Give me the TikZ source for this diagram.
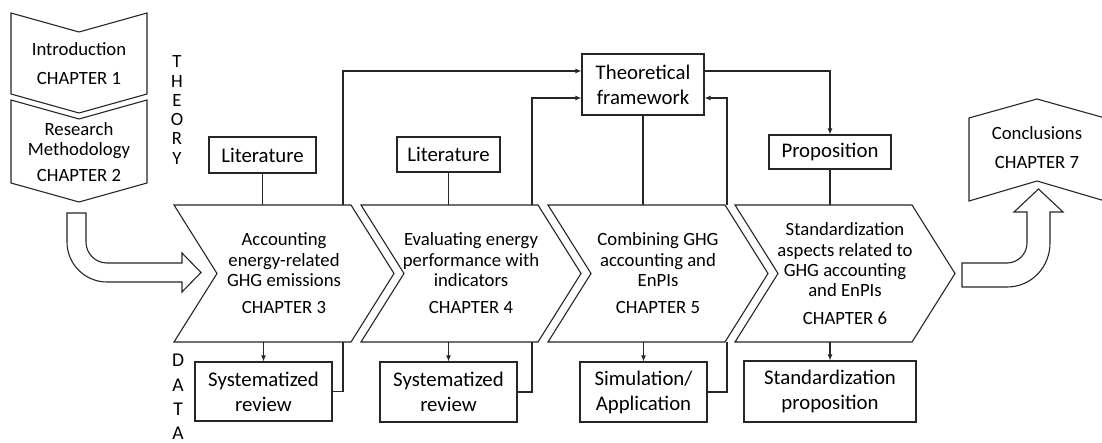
\documentclass[tikz,border=0pt]{standalone}
\usepackage{fontspec}
\setmainfont{Carlito}
\usetikzlibrary{arrows.meta,calc}
\begin{document}
\begin{tikzpicture}[x=1pt,y=-1pt,
  ln/.style={line width=1.1pt, draw=black!85},
  arr/.style={ln, -{Latex[length=6pt,width=5pt]}},
  shapeline/.style={ln, fill=white, line join=miter},
  chevtext/.style={align=center, font=\fontsize{18.7}{20.3}\selectfont, inner sep=0pt},
  box/.style={ln, fill=white, align=center, font=\fontsize{20.8}{25}\selectfont, inner sep=0pt},
  vlabel/.style={align=center, inner sep=0pt}]
\useasboundingbox (0,0) rectangle (1102,443);

% ---- chapters 1 and 2 (downward chevrons) ----
\draw[shapeline] (11,13) -- (79,32) -- (147,13) -- (147,94) -- (79,113) -- (11,94) -- cycle;
\draw[shapeline] (11,100) -- (79,119) -- (147,100) -- (147,183) -- (79,202) -- (11,183) -- cycle;
\node[chevtext] (ch1) at (79,63.5) {Introduction\\[8pt]CHAPTER 1};
\node[chevtext] (ch2) at (79,152) {Research\\Methodology\\[6pt]CHAPTER 2};

% THEORY / DATA labels
\node[vlabel, font=\fontsize{18.7}{19.3}\selectfont] (theory) at (177,110) {T\\H\\E\\O\\R\\Y};
\node[vlabel, font=\fontsize{19.5}{24.3}\selectfont] (data) at (178,397) {D\\A\\T\\A};

% bent block arrow into chapter 3
\draw[shapeline] (86,213) -- (86,242) .. controls (86,253.6) and (95.4,263) .. (107,263)
  -- (182,263) -- (182,253) -- (201,272.5) -- (182,292) -- (182,282) -- (107,282)
  .. controls (84.9,282) and (67,264.1) .. (67,242) -- (67,213) -- cycle;

% ---- chapters 3 to 6 (process chevrons) ----
\foreach \s in {174,361,548,735}
  \draw[shapeline] (\s,205) -- ++(177,0) -- ++(43,68.5) -- ++(-43,68.5) -- ++(-177,0) -- ++(43,-68.5) -- cycle;
\node[chevtext] (ch3) at (284,273.5) {Accounting\\energy-related\\GHG emissions\\[7pt]CHAPTER 3};
\node[chevtext] (ch4) at (471,273.5) {Evaluating energy\\performance with\\indicators\\[7pt]CHAPTER 4};
\node[chevtext] (ch5) at (658,273.5) {Combining GHG\\accounting and\\EnPIs\\[7pt]CHAPTER 5};
\node[chevtext] (ch6) at (845,273.5) {Standardization\\aspects related to\\GHG accounting\\and EnPIs\\[7pt]CHAPTER 6};

\coordinate (ctop) at (0,205);
\coordinate (cbot) at (0,342);
\coordinate (r1) at (343,205);
\coordinate (r2) at (532,205);
\coordinate (r3) at (727,205);
\coordinate (q1) at (343,342);
\coordinate (q2) at (532,342);
\coordinate (q3) at (727,342);

% ---- chapter 7 (upward chevron) and its block arrow ----
\draw[shapeline] (969,118) -- (1037,99) -- (1105,118) -- (1105,201) -- (1037,181) -- (969,201) -- cycle;
\node[chevtext] (ch7) at (1037,147.5) {Conclusions\\[8pt]CHAPTER 7};
\draw[shapeline] (962,263) -- (1007,263) .. controls (1018,263) and (1027,254) .. (1027,243)
  -- (1027,212) -- (1014,212) -- (1038.5,189) -- (1063,212) -- (1050,212) -- (1050,243)
  .. controls (1050,267.3) and (1031.3,287) .. (1007,287) -- (962,287) -- cycle;

% ---- boxes ----
\node[box, minimum width=107pt, minimum height=36pt] (lit1) at (262.5,155) {Literature};
\node[box, minimum width=103pt, minimum height=35pt] (lit2) at (448.5,154.5) {Literature};
\node[box, minimum width=122pt, minimum height=61pt] (tf) at (643,84.5) {Theoretical\\framework};
\node[box, minimum width=122pt, minimum height=34pt] (prop) at (830,152) {Proposition};
\node[box, minimum width=137pt, minimum height=59pt] (sr1) at (263.5,391.5) {Systematized\\review};
\node[box, minimum width=137pt, minimum height=60pt] (sr2) at (448.5,392) {Systematized\\review};
\node[box, minimum width=127pt, minimum height=60pt] (sa) at (643.5,392) {Simulation/\\Application};
\node[box, minimum width=172pt, minimum height=61pt] (sp) at (830,391.5) {Standardization\\proposition};

% ---- connectors above the chevrons ----
\draw[ln] (lit1.south) -- (lit1.south |- ctop);
\draw[ln] (lit2.south) -- (lit2.south |- ctop);
\draw[ln] (tf.south) -- (tf.south |- ctop);
\draw[ln] (prop.south) -- (prop.south |- ctop);
\draw[arr] (r1) |- ($(tf.west)+(0,-13.5)$);
\draw[arr] (r2) |- ($(tf.west)+(0,13.5)$);
\draw[arr] (r3) |- ($(tf.east)+(0,13.5)$);
\draw[arr] ($(tf.east)+(0,-13.5)$) -| (prop.north);

% ---- connectors below the chevrons ----
\draw[arr] (sr1.north |- cbot) -- (sr1.north);
\draw[arr] (sr2.north |- cbot) -- (sr2.north);
\draw[arr] (sa.north |- cbot) -- (sa.north);
\draw[arr] (sp.north |- cbot) -- (sp.north);
\draw[ln] (sr1.east) -| (q1);
\draw[ln] (sr2.east) -| (q2);
\draw[ln] (sa.east) -| (q3);
\end{tikzpicture}
\end{document}
